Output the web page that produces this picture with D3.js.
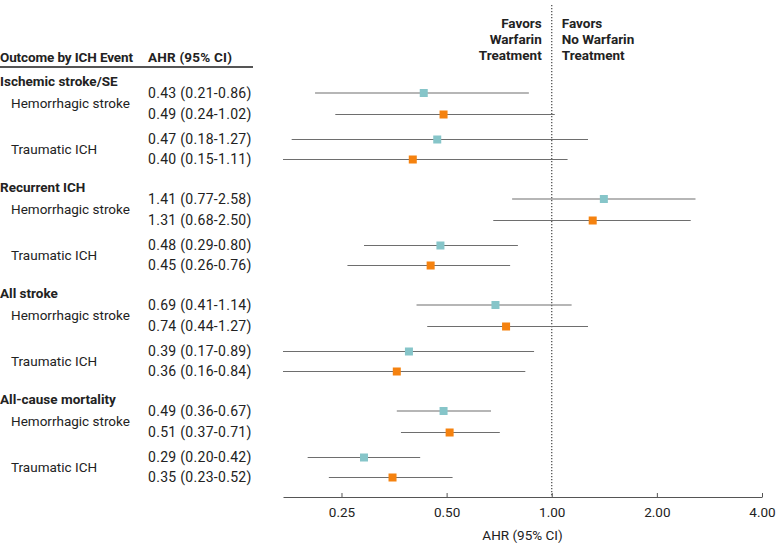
<!DOCTYPE html>
<html><head><meta charset="utf-8">
<script src="https://cdn.jsdelivr.net/npm/d3@7"></script>
<style>
body{margin:0;background:#fff}
text{font-family:Roboto,"Open Sans",sans-serif;fill:#222}
</style></head><body>
<svg id="c" width="783" height="556"></svg>
<script>
const outcomes = ["Ischemic stroke/SE","Recurrent ICH","All stroke","All-cause mortality"];
const events = ["Hemorrhagic stroke","Traumatic ICH"];
// per outcome, per event, two estimates (teal first, orange second)
const hr  = [0.43,0.49,0.47,0.40, 1.41,1.31,0.48,0.45, 0.69,0.74,0.39,0.36, 0.49,0.51,0.29,0.35];
const lo  = [0.21,0.24,0.18,0.15, 0.77,0.68,0.29,0.26, 0.41,0.44,0.17,0.16, 0.36,0.37,0.20,0.23];
const hi  = [0.86,1.02,1.27,1.11, 2.58,2.50,0.80,0.76, 1.14,1.27,0.89,0.84, 0.67,0.71,0.42,0.52];
const tickValues = [0.25,0.5,1,2,4];
const tickLabels = ["0.25","0.50","1.00","2.00","4.00"];
const colors = ["#86c5c9","#f5820f"];

const svg = d3.select("#c");
const x = d3.scaleLog().domain([0.17,4]).range([283,762]);
// vertical layout: slot units
const y = d3.scaleLinear().domain([0,106]).range([81,187]);
const rowSlot = [12,33.5,58.5,78.5];
const fmt = d=>d.toFixed(2);
const FS = 13.5;

// header
svg.append("text").attr("x",0).attr("y",57).attr("dy","0.35em").attr("font-weight","bold").attr("font-size",FS).attr("textLength",133).text("Outcome by ICH Event");
svg.append("text").attr("x",148).attr("y",57).attr("dy","0.35em").attr("font-weight","bold").attr("font-size",FS).attr("letter-spacing",0.2).text("AHR (95% CI)");
svg.append("line").attr("x1",0).attr("x2",253).attr("y1",67).attr("y2",67).attr("stroke","#555").attr("stroke-width",2);

// favors labels
const fl = ["Favors","Warfarin","Treatment"], fr = ["Favors","No Warfarin","Treatment"];
fl.forEach((t,i)=>svg.append("text").attr("x",x(1)-10).attr("y",23+16*i).attr("dy","0.35em").attr("text-anchor","end").attr("font-weight","bold").attr("font-size",FS).text(t));
fr.forEach((t,i)=>svg.append("text").attr("x",x(1)+10).attr("y",23+16*i).attr("dy","0.35em").attr("font-weight","bold").attr("font-size",FS).text(t));

// reference line
svg.append("line").attr("x1",x(1)).attr("x2",x(1)).attr("y1",5).attr("y2",497)
  .attr("stroke","#444").attr("stroke-width",1.2).attr("stroke-dasharray","1.3,1.7");

const clip = v=>Math.max(0.17,Math.min(4,v));
outcomes.forEach((o,g)=>{
  const base = g*106;
  svg.append("text").attr("x",0).attr("y",y(base)).attr("dy","0.35em").attr("font-weight","bold").attr("font-size",FS).text(o);
  events.forEach((e,k)=>{
    const ya = y(base+rowSlot[2*k]), yb = y(base+rowSlot[2*k+1]);
    svg.append("text").attr("x",11).attr("y",(ya+yb)/2).attr("dy","0.35em").attr("font-size",FS).text(e);
    [0,1].forEach(s=>{
      const i = g*4+k*2+s;
      const yy = y(base+rowSlot[2*k+s]);
      svg.append("text").attr("x",148).attr("y",yy).attr("dy","0.35em").attr("font-size",14).attr("letter-spacing",0.3)
        .text(`${fmt(hr[i])} (${fmt(lo[i])}-${fmt(hi[i])})`);
      svg.append("line").attr("x1",x(clip(lo[i]))).attr("x2",x(clip(hi[i]))).attr("y1",yy).attr("y2",yy)
        .attr("stroke","#6e6e6e").attr("stroke-width",1.2);
      svg.append("rect").attr("x",x(hr[i])-4).attr("y",yy-4).attr("width",8).attr("height",8).attr("fill",colors[s]);
    });
  });
});

// axis
const ax = svg.append("g").attr("transform","translate(0,497)")
  .call(d3.axisTop(x).tickValues(tickValues).tickFormat((d,i)=>tickLabels[i]).tickSize(4).tickSizeOuter(0));
ax.select(".domain").attr("stroke","#555");
ax.selectAll(".tick line").attr("stroke","#555");
ax.selectAll(".tick text").attr("y",15).attr("dy","0.35em").attr("font-size",13.5).attr("font-family",null).attr("fill","#222");
svg.append("text").attr("x",(283+762)/2).attr("y",535).attr("dy","0.35em").attr("text-anchor","middle").attr("font-size",13.5).text("AHR (95% CI)");
</script></body></html>
